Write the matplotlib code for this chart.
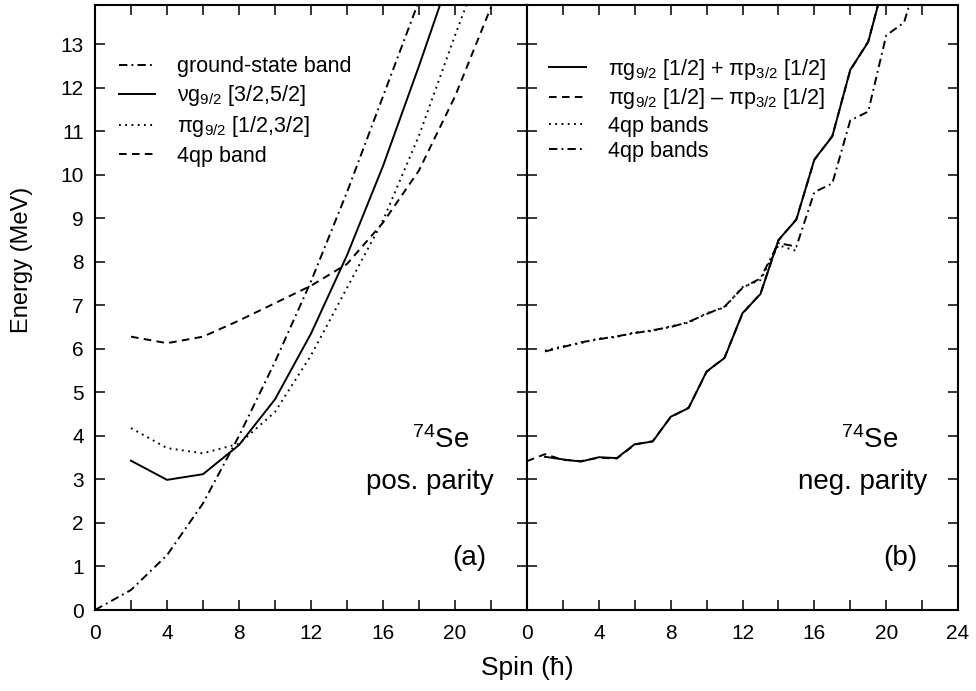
import matplotlib
matplotlib.use("Agg")
import matplotlib.pyplot as plt
from matplotlib.ticker import MultipleLocator

plt.rcParams['font.family'] = ['Liberation Sans', 'DejaVu Sans']
plt.rcParams['mathtext.fontset'] = 'custom'
plt.rcParams['mathtext.rm'] = 'Liberation Sans'
plt.rcParams['mathtext.it'] = 'Liberation Sans'
plt.rcParams['mathtext.sf'] = 'Liberation Sans'
plt.rcParams['lines.scale_dashes'] = False

# ---------------- panel (a): positive parity ----------------
gsb_spin = [0, 2, 4, 6, 8, 10, 12, 14, 16, 18]
gsb_E = [0.0, 0.46, 1.26, 2.45, 4.0, 5.7, 7.55, 9.6, 11.8, 14.0]

nu_spin = [2, 4, 6, 8, 10, 12, 14, 16, 18, 20]
nu_E = [3.43, 2.99, 3.12, 3.79, 4.84, 6.35, 8.15, 10.2, 12.5, 14.9]

pi_spin = [2, 4, 6, 8, 10, 12, 14, 16, 18, 20, 22]
pi_E = [4.18, 3.72, 3.60, 3.82, 4.55, 5.85, 7.4, 8.95, 10.9, 13.2, 15.4]

qp_spin = [2, 4, 6, 8, 10, 12, 14, 16, 18, 20, 22]
qp_E = [6.28, 6.13, 6.28, 6.65, 7.05, 7.45, 7.95, 8.9, 10.1, 11.8, 13.85]

# ---------------- panel (b): negative parity ----------------
plus_spin = list(range(1, 21))
plus_E = [3.52, 3.46, 3.41, 3.51, 3.49, 3.81, 3.87, 4.44, 4.64, 5.48,
          5.79, 6.82, 7.26, 8.50, 8.97, 10.35, 10.88, 12.41, 13.05, 14.6]

minus_spin = list(range(0, 21))
minus_E = [3.42, 3.58, 3.45, 3.42, 3.50, 3.48, 3.80, 3.88, 4.43, 4.65, 5.47,
           5.80, 6.81, 7.27, 8.49, 8.98, 10.34, 10.89, 12.40, 13.06, 14.6]

qpA_spin = list(range(1, 16))
qpA_E = [5.96, 6.06, 6.13, 6.24, 6.27, 6.38, 6.41, 6.52, 6.60, 6.82,
         6.95, 7.42, 7.58, 8.38, 8.25]

qpB_spin = list(range(1, 23))
qpB_E = [5.94, 6.04, 6.15, 6.22, 6.29, 6.36, 6.43, 6.50, 6.62, 6.80, 6.97,
         7.40, 7.62, 8.43, 8.35, 9.60, 9.80, 11.25, 11.45, 13.2, 13.5, 14.9]

labels_a = ['ground-state band',
            r'νg$_{\mathrm{9/2}}$ [3/2,5/2]',
            r'πg$_{\mathrm{9/2}}$ [1/2,3/2]',
            '4qp band']
labels_b = [r'πg$_{\mathrm{9/2}}$ [1/2] + πp$_{\mathrm{3/2}}$ [1/2]',
            r'πg$_{\mathrm{9/2}}$ [1/2] – πp$_{\mathrm{3/2}}$ [1/2]',
            '4qp bands',
            '4qp bands']

x_ticks_a = [0, 4, 8, 12, 16, 20, 24]
x_ticklabels_a = ['0', '4', '8', '12', '16', '20', '']
x_ticks_b = [0, 4, 8, 12, 16, 20, 24]
y_ticks = list(range(0, 14))

DASHDOT = (0, (6.0, 3.0, 1.3, 3.0))
DASHED = (0, (5.5, 3.8))
DOTTED = (0, (1.3, 3.2))
LW = 1.4
C = 'black'

fig = plt.figure(figsize=(9.76, 6.91), dpi=100)
W, H = 976, 691
ax1 = fig.add_axes([95 / W, 1 - 610 / H, 432 / W, 605 / H])
ax2 = fig.add_axes([527 / W, 1 - 610 / H, 431 / W, 605 / H])

ax1.plot(gsb_spin, gsb_E, color=C, lw=LW, linestyle=DASHDOT, label=labels_a[0])
ax1.plot(nu_spin, nu_E, color=C, lw=LW, linestyle='-', label=labels_a[1])
ax1.plot(pi_spin, pi_E, color=C, lw=LW, linestyle=DOTTED, label=labels_a[2])
ax1.plot(qp_spin, qp_E, color=C, lw=LW, linestyle=DASHED, label=labels_a[3])

ax2.plot(minus_spin, minus_E, color=C, lw=LW, linestyle=DASHED, label=labels_b[1], zorder=2)
ax2.plot(plus_spin, plus_E, color=C, lw=LW, linestyle='-', label=labels_b[0], zorder=3)
ax2.plot(qpA_spin, qpA_E, color=C, lw=LW, linestyle=DOTTED, label=labels_b[2], zorder=2)
ax2.plot(qpB_spin, qpB_E, color=C, lw=LW, linestyle=DASHDOT, label=labels_b[3], zorder=2)

for ax in (ax1, ax2):
    ax.set_xlim(0, 24)
    ax.set_ylim(0, 13.9)
    ax.set_yticks(y_ticks)
    ax.xaxis.set_minor_locator(MultipleLocator(2))
    ax.tick_params(which='both', direction='in', length=7, width=1.1,
                   top=True, right=True, labelsize=15)
    ax.tick_params(axis='x', pad=10)
    ax.tick_params(axis='y', pad=8)
    for sp in ax.spines.values():
        sp.set_linewidth(1.5)

ax1.set_xticks(x_ticks_a, labels=x_ticklabels_a)
ax2.set_xticks(x_ticks_b)
ax2.tick_params(labelleft=False)

fig.text(22 / W, 1 - 260 / H, 'Energy (MeV)', fontsize=17, rotation=90,
         ha='center', va='center')
fig.text(527 / W, 1 - 668 / H, 'Spin (ħ)', fontsize=19, ha='center', va='center')

# legends
leg_kw = dict(loc='upper left', frameon=False, fontsize=15.5, handlelength=1.7,
              handletextpad=1.0, borderpad=0, borderaxespad=0)
h, l = ax1.get_legend_handles_labels()
ax1.legend(h, l, bbox_to_anchor=(0.055, 0.915), labelspacing=0.28, **leg_kw)
h, l = ax2.get_legend_handles_labels()
order = [1, 0, 2, 3]
ax2.legend([h[i] for i in order], [l[i] for i in order],
           bbox_to_anchor=(0.052, 0.914), labelspacing=0.2, **leg_kw)

# annotations
ax1.text(19.2, 3.9, r'$^{\mathrm{74}}$Se', fontsize=20, ha='center', va='center')
ax1.text(18.6, 2.95, 'pos. parity', fontsize=20, ha='center', va='center')
ax1.text(20.8, 1.2, '(a)', fontsize=20, ha='center', va='center')
ax2.text(19.1, 3.9, r'$^{\mathrm{74}}$Se', fontsize=20, ha='center', va='center')
ax2.text(18.7, 2.95, 'neg. parity', fontsize=20, ha='center', va='center')
ax2.text(20.8, 1.2, '(b)', fontsize=20, ha='center', va='center')

fig.savefig('out.png', dpi=100)
